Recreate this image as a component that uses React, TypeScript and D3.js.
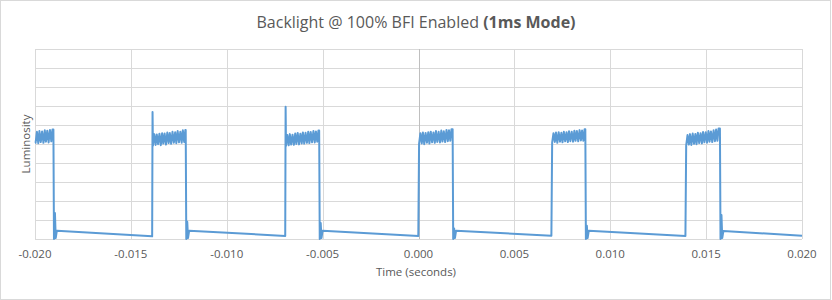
import React from 'react';
import * as d3 from 'd3';

const xTickValues = [-0.02, -0.015, -0.01, -0.005, 0, 0.005, 0.01, 0.015, 0.02];
const xTickLabels = ['-0.020', '-0.015', '-0.010', '-0.005', '0.000', '0.005', '0.010', '0.015', '0.020'];
const yGridValues = [0, 1, 2, 3, 4, 5, 6, 7, 8, 9, 10];

// pulse timings (seconds)
const riseTimes = [-0.02, -0.01388, -0.00694, 0.0, 0.00694, 0.01393];
const fallTimes = [-0.01904, -0.01214, -0.00518, 0.00178, 0.0087, 0.01572];
const spikeLevels: (number | null)[] = [null, 6.68, 6.96, null, null, null];
const ringLevels = [1.37, 0.91, 0.84, 0.55, 0.7, 1.26];
const lowStartLevels = [0.44, 0.44, 0.44, 0.44, 0.44, 0.42];
const lowEndLevels = [0.14, 0.16, 0.16, 0.17, 0.16, 0.17];

// sample offsets within a plateau (ms after rise)
const plateauOffsetsMs = [
  0.03, 0.1, 0.17, 0.23, 0.3, 0.37, 0.44, 0.51, 0.57, 0.64, 0.71, 0.78, 0.85,
  0.91, 0.98, 1.05, 1.12, 1.19, 1.25, 1.32, 1.39, 1.46, 1.53, 1.59, 1.66, 1.72,
];

const plateau0 = [5.06, 5.64, 5.04, 5.68, 5.1, 5.66, 5.06, 5.72, 5.12, 5.7, 5.08, 5.74, 5.14, 5.76];
const plateau1 = [4.92, 5.52, 4.95, 5.5, 4.99, 5.54, 4.94, 5.57, 5.02, 5.55, 4.97, 5.6, 5.05, 5.58, 5.01, 5.64, 5.07, 5.62, 5.04, 5.68, 5.09, 5.65, 5.07, 5.72, 5.11, 5.74];
const plateau2 = [4.9, 5.47, 4.93, 5.52, 4.97, 5.49, 4.96, 5.55, 5.0, 5.58, 4.98, 5.54, 5.03, 5.61, 5.02, 5.59, 5.06, 5.65, 5.05, 5.63, 5.09, 5.68, 5.08, 5.66, 5.12, 5.71];
const plateau3 = [5.01, 5.57, 5.03, 5.6, 4.99, 5.58, 5.07, 5.62, 5.02, 5.65, 5.09, 5.61, 5.06, 5.68, 5.11, 5.64, 5.08, 5.71, 5.13, 5.67, 5.1, 5.74, 5.15, 5.72, 5.17, 5.78];
const plateau4 = [5.07, 5.57, 5.11, 5.6, 5.06, 5.62, 5.12, 5.59, 5.09, 5.64, 5.14, 5.62, 5.1, 5.67, 5.15, 5.65, 5.12, 5.7, 5.17, 5.68, 5.14, 5.73, 5.19, 5.71, 5.17, 5.77];
const plateau5 = [4.93, 5.47, 4.97, 5.52, 4.95, 5.55, 5.01, 5.53, 4.99, 5.59, 5.05, 5.57, 5.03, 5.63, 5.09, 5.62, 5.07, 5.68, 5.12, 5.66, 5.1, 5.72, 5.15, 5.76, 5.17, 5.82];
const plateaus = [plateau0, plateau1, plateau2, plateau3, plateau4, plateau5];

const W = 832;
const H = 300;
const M = { left: 35, right: 802, top: 49, bottom: 239 };
const FONT = "'Open Sans', 'Noto Sans', sans-serif";
const TEXT = '#595959';
const GRID = '#D9D9D9';
const LINE = '#5B9BD5';

function buildSeries(): [number, number][] {
  const pts: [number, number][] = [];
  for (let k = 0; k < riseTimes.length; k++) {
    const R = riseTimes[k];
    const F = fallTimes[k];
    const plat = plateaus[k];
    const spike = spikeLevels[k];
    if (k > 0) pts.push([R - 0.00001, lowEndLevels[k - 1]]);
    if (k === 0) pts.push([R, plat[0]]);
    if (spike !== null) pts.push([R + 0.00001, spike]);
    plat.forEach((v, i) => pts.push([R + plateauOffsetsMs[i] / 1000, v]));
    pts.push([F, plat[plat.length - 1]]);
    pts.push([F + 0.00003, 0]);
    pts.push([F + 0.00008, ringLevels[k]]);
    pts.push([F + 0.00012, 0.05]);
    pts.push([F + 0.00018, lowStartLevels[k]]);
  }
  pts.push([0.02, lowEndLevels[lowEndLevels.length - 1]]);
  return pts;
}

export default function App() {
  const x = d3.scaleLinear().domain([-0.02, 0.02]).range([M.left, M.right]);
  const y = d3.scaleLinear().domain([0, 10]).range([M.bottom, M.top]);
  const series = buildSeries();
  const line = d3
    .line<[number, number]>()
    .x((d) => x(d[0]))
    .y((d) => y(d[1]));

  return (
    <div style={{ position: 'fixed', left: 0, top: 0 }}>
      <svg width={W} height={H} style={{ display: 'block', background: '#fff' }}>
        <rect x={0.5} y={0.5} width={W - 2} height={H - 1} fill="#fff" stroke={GRID} />
        {yGridValues.map((v) => (
          <line key={'h' + v} x1={M.left} x2={M.right} y1={Math.round(y(v)) + 0.5} y2={Math.round(y(v)) + 0.5} stroke={GRID} strokeWidth={1} />
        ))}
        {xTickValues.map((v) => (
          <line key={'v' + v} x1={Math.round(x(v)) + 0.5} x2={Math.round(x(v)) + 0.5} y1={M.top} y2={M.bottom} stroke={v === 0 ? '#BFBFBF' : GRID} strokeWidth={1} />
        ))}
        <path d={line(series) || ''} fill="none" stroke={LINE} strokeWidth={2} strokeLinejoin="round" />
        {xTickValues.map((v, i) => (
          <text key={'t' + v} x={x(v)} y={258} textAnchor="middle" fontFamily={FONT} fontSize={11.5} fill={TEXT}>
            {xTickLabels[i]}
          </text>
        ))}
        <text x={416} y={276} textAnchor="middle" fontFamily={FONT} fontSize={11.5} fill={TEXT}>
          Time (seconds)
        </text>
        <text transform="translate(30,144) rotate(-90)" textAnchor="middle" fontFamily={FONT} fontSize={11.5} fill={TEXT}>
          Luminosity
        </text>
        <text x={416} y={28} textAnchor="middle" fontFamily={FONT} fontSize={16} fill={TEXT}>
          Backlight @ 100% BFI Enabled <tspan fontWeight="bold">(1ms Mode)</tspan>
        </text>
      </svg>
    </div>
  );
}
